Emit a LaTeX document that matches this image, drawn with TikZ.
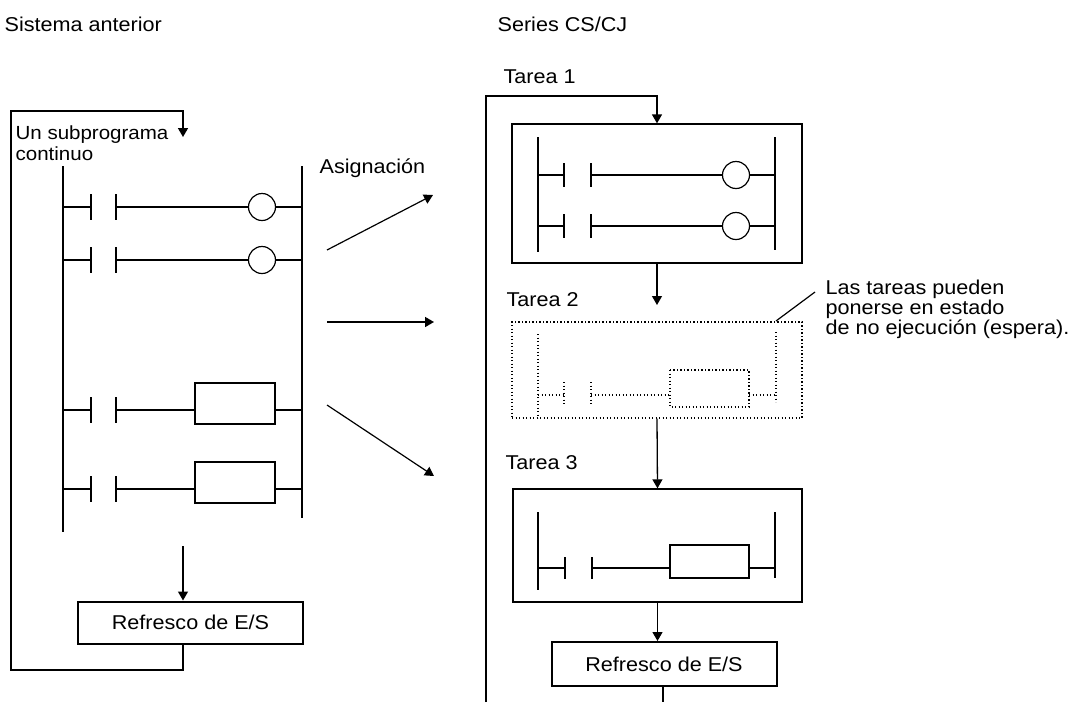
\documentclass[tikz,border=0pt]{standalone}
\usepackage{fontspec}
\setmainfont{Liberation Sans}[FakeStretch=1.08]
\usetikzlibrary{arrows.meta}

\begin{document}
\begin{tikzpicture}[x=1pt,y=-1pt,
  font=\fontsize{20}{19}\selectfont,
  every node/.style={inner sep=0pt},
  every path/.style={line width=1.2pt},
  rail/.style={line width=1.5pt},
  arr/.style={-{Triangle[length=9pt,width=10pt]}},
  task/.style={draw,rectangle,line width=1.3pt},
  dots/.style={line width=1.3pt,dash pattern=on 1.3pt off 2.2pt},
  refbox/.style={draw,rectangle,line width=2pt,minimum width=225pt,minimum height=42pt}]
  \useasboundingbox (0,0) rectangle (1077,702);

  % Headings
  \node[anchor=west] (hleft) at (4,24) {Sistema anterior};
  \node[anchor=west] (hright) at (497,24) {Series CS/CJ};

  % ---- previous system: one continuous program ----
  \node[anchor=north west,align=left,font=\fontsize{19}{21}\selectfont] (sub) at (15,125) {Un subprograma\\continuo};
  \draw[rail] (63,166) -- (63,532);
  \draw[rail] (302,166) -- (302,518);
  \foreach \y in {207,260} {
    \draw (63,\y) -- (91,\y) (116,\y) -- (248.5,\y) (275.5,\y) -- (302,\y);
    \draw (91,{\y-13}) -- (91,{\y+13}) (116,{\y-13}) -- (116,{\y+13});
    \draw (262,\y) circle[radius=13.5pt];
  }
  \foreach \y in {410,489} {
    \draw (63,\y) -- (91,\y) (116,\y) -- (195,\y) (275,\y) -- (302,\y);
    \draw (91,{\y-13}) -- (91,{\y+13}) (116,{\y-13}) -- (116,{\y+13});
    \draw (195,{\y-27}) rectangle (275,{\y+14});
  }
  \node[refbox] (ref1) at (190.5,622.5) {Refresco de E/S};
  \coordinate (lin) at (183,546);
  \coordinate (lleft) at (11,670);
  \coordinate (ltop) at (11,111);
  \coordinate (lend) at (183,137);
  \draw[arr] (lin) -- (lin |- ref1.north);
  \draw[arr,line width=1.6pt] (lin |- ref1.south) |- (lleft) -- (ltop) -| (lend);

  % ---- assignment arrows ----
  \node[anchor=west] (asig) at (319,168) {Asignación};
  \coordinate (a1s) at (327,250);  \coordinate (a1e) at (433,195);
  \coordinate (a2s) at (327,322);  \coordinate (a2e) at (434,322);
  \coordinate (a3s) at (327,405);  \coordinate (a3e) at (434,476);
  \draw[arr] (a1s) -- (a1e);
  \draw[arr,line width=1.6pt] (a2s) -- (a2e);
  \draw[arr] (a3s) -- (a3e);

  % ---- CS/CJ: tasks ----
  \node[task,minimum width=290pt,minimum height=139pt] (t1) at (657,193.5) {};
  \node[task,dots,minimum width=290pt,minimum height=96pt] (t2) at (657,370) {};
  \node[task,minimum width=289pt,minimum height=113pt] (t3) at (657.5,545.5) {};
  \node[refbox,minimum height=44pt] (ref2) at (664,664) {Refresco de E/S};
  \node[anchor=west] (lt1) at (503,77) {Tarea 1};
  \node[anchor=west] (lt2) at (506,300) {Tarea 2};
  \node[anchor=west] (lt3) at (505,463) {Tarea 3};

  % task 1
  \draw[rail] (538,137) -- (538,252) (775,137) -- (775,250);
  \foreach \y/\w in {175/2.4pt,226/1.2pt} {
    \draw[line width=\w] (538,\y) -- (564,\y) (591,\y) -- (722.5,\y) (749.5,\y) -- (775,\y);
    \draw (564,{\y-12}) -- (564,{\y+12}) (591,{\y-12}) -- (591,{\y+12});
    \draw (736,\y) circle[radius=13.5pt];
  }
  % task 2 (waiting)
  \draw[dots] (538,334) -- (538,418) (776,332) -- (776,402);
  \draw[dots] (538,395) -- (564,395) (591,395) -- (670,395) (749,395) -- (776,395);
  \draw[dots] (564,382) -- (564,405) (591,382) -- (591,405);
  \draw[dots] (670,370) rectangle (749,407);
  % task 3
  \draw[rail] (538,512) -- (538,590) (775,512) -- (775,578);
  \draw (538,568) -- (565,568) (592,568) -- (670,568) (749,568) -- (775,568);
  \draw (565,557) -- (565,579) (592,557) -- (592,579);
  \draw (670,545) rectangle (749,578);

  % flow between tasks
  \coordinate (rbot) at (486,702);
  \coordinate (rtop) at (486,96);
  \coordinate (t2in) at (657,305);
  \coordinate (rout) at (663,702);
  \draw[arr,line width=1.4pt] (rbot) -- (rtop) -| (t1.north);
  \draw[arr] (t1.south) -- (t2in);
  \draw[arr,line width=1.3pt] (t2.south) -- (t3.north);
  \draw[arr] (t3.south) -- (t3.south |- ref2.north);
  \draw[line width=1.5pt] (ref2.south -| rout) -- (rout);

  % note on task 2
  \node[anchor=north west,align=left,font=\fontsize{20}{18.5}\selectfont] (note) at (825,279.5) {Las tareas pueden\\ponerse en estado\\de no ejecución (espera).};
  \coordinate (ldA) at (776,321);
  \coordinate (ldB) at (815,292);
  \draw (ldA) -- (ldB);
\end{tikzpicture}
\end{document}
